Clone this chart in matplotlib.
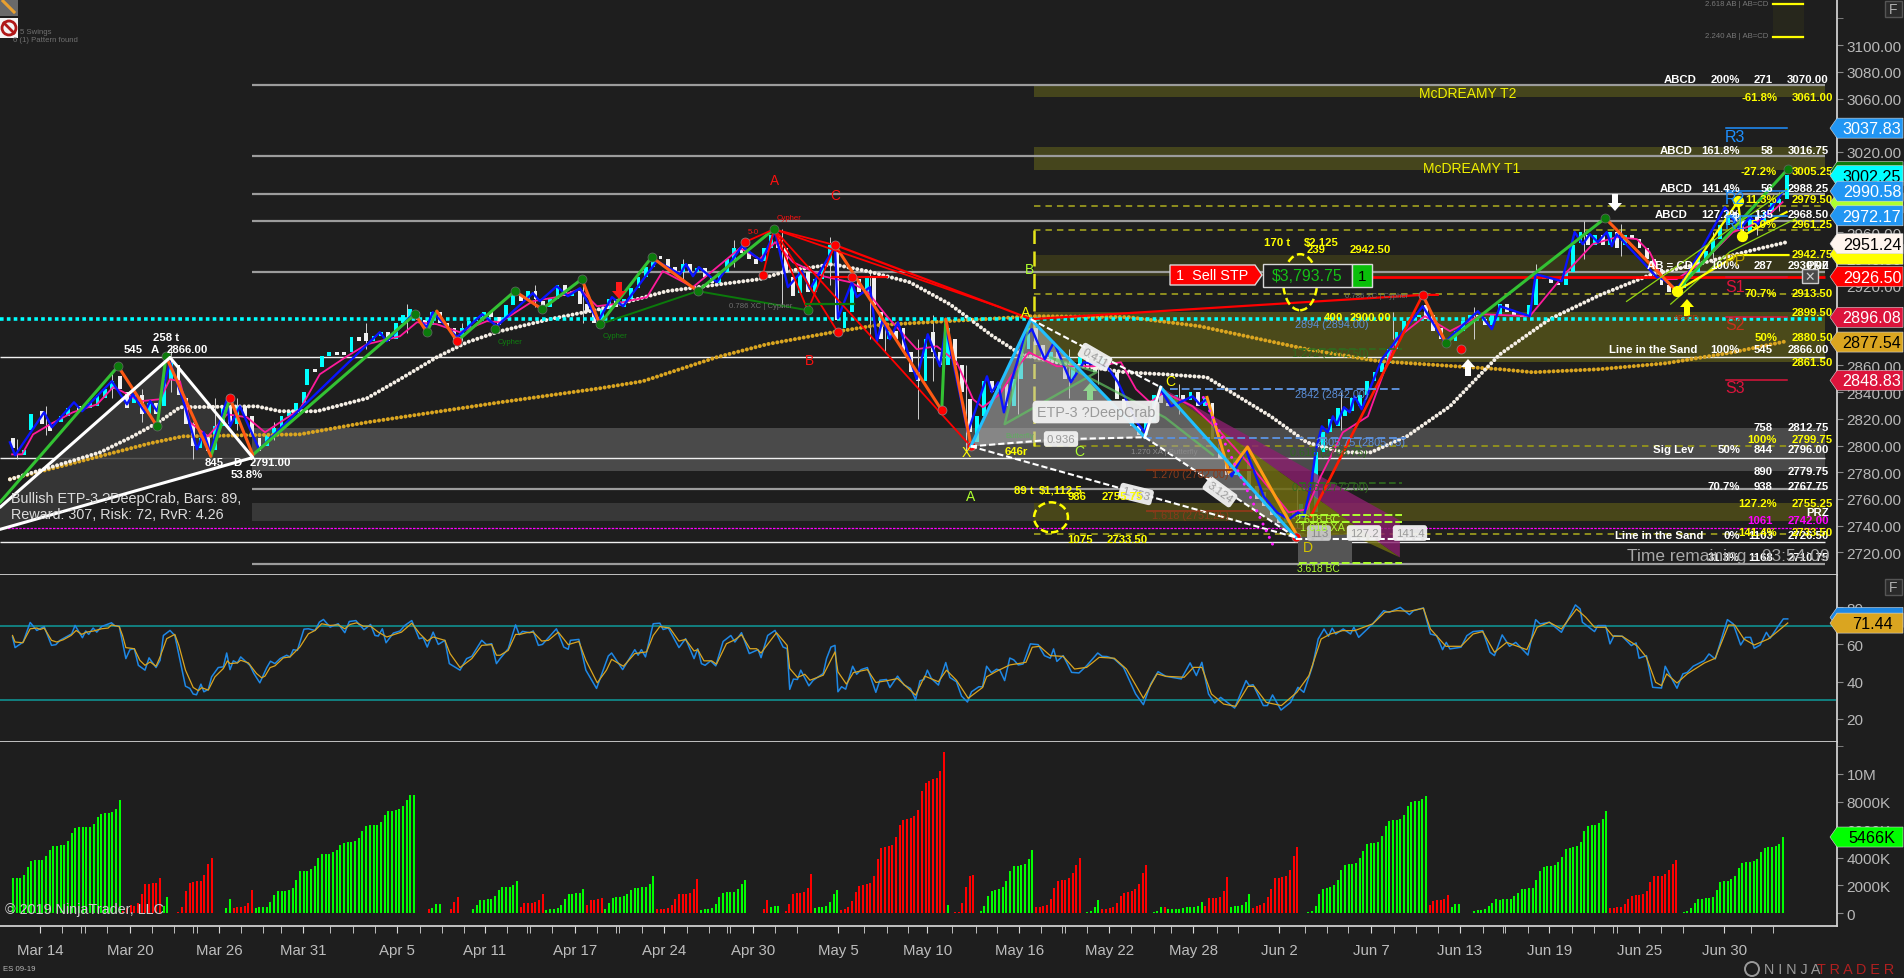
import numpy as np
import matplotlib
matplotlib.use("Agg")
import matplotlib.pyplot as plt
from matplotlib.lines import Line2D
from matplotlib.patches import Polygon, Rectangle, Ellipse, Circle
from matplotlib.transforms import IdentityTransform

W, H = 1904, 979
BG = "#1e1e1e"
plt.rcParams["font.family"] = ["Liberation Sans", "DejaVu Sans"]

# ---------- data ----------
date_labels = ["Mar 14","Mar 20","Mar 26","Mar 31","Apr 5","Apr 11","Apr 17","Apr 24","Apr 30","May 5","May 10",
               "May 16","May 22","May 28","Jun 2","Jun 7","Jun 13","Jun 19","Jun 25","Jun 30"]
date_bars = [11,35.3,59.5,82.3,107.9,131.8,156.3,180.4,204.6,227.7,252,277,301.4,324.2,347.6,372.6,396.7,421,445.4,468.5]
minor_bars = [16.8,22,23.2,29.2,41.2,47.4,52.4,53.4,65.4,71.6,76.4,89.8,95.9,101.8,114,120,126,137.9,143.3,144.1,150,
              162.1,167.3,168.3,174.4,186.6,192.7,197.5,198.5,210.6,216.7,234.7,240.9,246.7,258.6,265.1,271,283,288.6,
              289.4,295.3,307.3,313.5,318.3,330.6,336.5,354.7,360.7,366.4,378.8,384.8,390.7,403.1,408.3,409.1,415.2,
              427.3,433.2,438.2,439.4,451.4,457.4,475.7,481.7]

candle_bars = [3,6,8,11,13,16,18,21,24,26, 28,30,32,34,36,38,40,42,44,46, 48,50,52,54,56,58,60,62,64,66,
               68,70,72,74,76,78,80,82,83,85, 87,89,91,93,95,97,99,101,103,105,
               107,109,111,113,115,117,119,121,123,125, 127,129,131,133,135,137,139,141,143,145,
               147,149,151,153,155,157,159,161,163,165, 167,169,171,173,175,177,179,181,183,185,
               187,189,191,193,195,197,199,201,203,205, 207,209,211,213,215,217,219,221,223,225,
               227,229,231,233,235,237,239,241,243,245, 247,249,251,253,255,257,259,261,263,265,
               267,269,271,273,275,277,279,281,283,285, 287,289,291,293,295,297,299,301,303,305,
               307,309,311,313,315,317,319,321,323,325, 327,329,331,333,335,337,339,341,343,345,
               347,349,351,353,355,357,359,361,363,365, 367,369,371,373,375,377,379,381,383,385,
               387,389,391,393,395,397,399,401,403,405, 407,409,411,413,415,417,419,421,423,425,
               427,429,431,433,435,437,439,441,443,445, 447,449,451,453,455,457,459,461,463,465,
               467,469,471,473,475,477,479,481,483,485]
candle_open = [2806,2793,2812,2826,2816,2818,2822,2830,2828,2830, 2836,2842,2852,2840,2832,2838,2824,2832,2830,2850,
               2860,2836,2816,2798,2808,2797,2815,2830,2816,2830, 2822,2806,2800,2808,2813,2822,2826,2832,2845,2857,
               2859,2867,2870,2870,2870,2881,2884,2878,2882,2885, 2880,2892,2896,2900,2894,2890,2900,2892,2888,2882,
               2888,2893,2896,2900,2896,2895,2905,2912,2910,2916, 2908,2904,2910,2920,2912,2916,2906,2900,2892,2902,
               2910,2904,2910,2918,2926,2934,2942,2940,2934,2930, 2936,2930,2933,2926,2922,2930,2940,2948,2944,2940,
               2938,2948,2958,2948,2926,2914,2930,2915,2925,2935, 2950,2888,2900,2925,2915,2926,2900,2880,2886,2888,
               2870,2855,2848,2885,2870,2860,2880,2860,2835,2803, 2822,2848,2840,2846,2830,2850,2872,2888,2875,2864,
               2870,2862,2850,2860,2866,2860,2858,2866,2855,2835, 2825,2815,2808,2818,2838,2832,2830,2838,2834,2840,
               2830,2832,2805,2790,2778,2790,2790,2770,2765,2755, 2750,2742,2750,2745,2756,2750,2795,2810,2815,2822,
               2826,2830,2838,2848,2855,2862,2872,2885,2893,2896, 2905,2898,2888,2880,2878,2886,2893,2898,2895,2890,
               2898,2906,2900,2898,2896,2905,2927,2925,2922,2920, 2930,2952,2958,2950,2958,2950,2960,2950,2958,2955,
               2948,2940,2932,2920,2915,2918,2925,2930,2940,2946, 2955,2965,2975,2968,2960,2972,2968,2975,2982,2985]
candle_close = [2798,2797,2824,2816,2811,2822,2828,2826,2832,2838, 2842,2848,2842,2828,2838,2824,2832,2824,2850,2862,
                2838,2816,2800,2806,2796,2815,2830,2816,2830,2822, 2808,2796,2808,2813,2822,2826,2832,2840,2857,2855,
                2867,2870,2868,2868,2881,2878,2878,2882,2885,2878, 2892,2898,2902,2894,2888,2900,2892,2888,2880,2888,
                2893,2896,2900,2896,2890,2905,2913,2908,2916,2910, 2904,2910,2920,2912,2916,2906,2900,2892,2902,2910,
                2904,2910,2918,2926,2934,2942,2940,2934,2930,2936, 2930,2933,2926,2922,2930,2940,2948,2944,2940,2936,
                2948,2958,2948,2930,2912,2930,2915,2925,2935,2950, 2894,2900,2920,2915,2926,2905,2880,2886,2880,2870,
                2855,2848,2880,2870,2860,2888,2860,2840,2810,2822, 2848,2840,2846,2830,2850,2872,2888,2875,2864,2870,
                2862,2850,2860,2866,2860,2855,2866,2860,2835,2825, 2815,2808,2818,2838,2832,2830,2838,2834,2840,2830,
                2836,2805,2790,2778,2790,2796,2770,2760,2755,2748, 2742,2752,2745,2756,2748,2795,2810,2820,2828,2828,
                2836,2838,2848,2855,2862,2872,2885,2893,2896,2898, 2895,2886,2880,2878,2886,2893,2898,2895,2890,2898,
                2906,2900,2898,2896,2905,2927,2925,2922,2920,2930, 2950,2960,2950,2958,2950,2960,2948,2958,2955,2948,
                2940,2932,2920,2915,2918,2925,2930,2940,2946,2955, 2965,2975,2968,2960,2972,2968,2975,2982,2985,3003]
wick_bars = [4,12,30,38,46,52,58,64,74,99,110,125,145,158,185,199,212,225,236,240,249,253,262,276,290,298,320,352,364,378,400,417,430,440,465,477,483]
wick_high = [2805,2830,2856,2842,2872,2818,2836,2836,2818,2892,2906,2892,2920,2922,2940,2954,2962,2956,2932,2892,2880,2898,2860,2860,2872,2870,2846,2768,2840,2900,2904,2936,2968,2966,2960,2976,2990]
wick_low = [2790,2808,2836,2818,2840,2790,2800,2812,2804,2872,2884,2878,2904,2892,2924,2934,2904,2920,2880,2870,2820,2848,2795,2824,2836,2846,2824,2738,2812,2880,2880,2916,2940,2942,2940,2958,2976]

gold_bars = [2.7,40.8,49.7,81.5,99.7,135.9,163,174.7,194.8,208.4,226.3,238.3,257.3,271.7,280.4,306.7,326,355.1,374.7,407.6,416.5,434.7,452.9,470.9,485.5]
gold_ma = [2774.7,2801.7,2806.9,2808.4,2817.4,2832.4,2842.9,2848.2,2866.2,2875.9,2884.9,2890.2,2893.2,2895.4,2896.9,2896.2,2889.4,2872.2,2863.2,2857.2,2854.9,2857.2,2861.7,2869.9,2878.2]
white_bars = [2.7,18.2,27.2,36.1,43.5,48.9,69.8,76.1,86.1,99.7,108.7,118.7,126.9,135.9,149.4,163,181.2,206.5,213.8,226.3,235.6,247.2,258.1,269.8,277.4,287.2,305.7,316.3,327.9,337.7,345.3,355.1,364.9,372.5,382.3,394,401.8,407.6,421.1,434.7,448.3,461.9,475.5,485.5]
white_ma = [2774.7,2787.4,2794.9,2806.9,2818.2,2828.7,2829.4,2825.7,2825.7,2835.4,2849.7,2866.2,2877.4,2885.7,2894.7,2902.2,2915.7,2924.7,2930.7,2935.9,2930.7,2922.4,2905.9,2881.9,2868.4,2862.4,2854.9,2853.4,2851.2,2834.7,2821.9,2802.4,2794.9,2794.9,2806.9,2829.4,2851.9,2868.4,2894.7,2912.7,2927.7,2936.3,2945.9,2952.4]

blue_bars = [2.7,4.1,12,14.1,20.1,22.3,30.4,34.5,36.1,39.4,40.8,42.7,46.2,49.7,53.5,55.4,57.1,61.7,62.5,65.2,70.4,81.5,103.2,105.1,112.2,116,117.6,124.2,131,135,144.8,146.7,151.3,154.3,157.6,162.5,166.3,169.3,178.5,184.8,186.4,188.3,189.9,194.8,201.6,207,210.6,214.1,217.9,220.1,226.9,227.7,231.5,232.8,236.4,238.3,239.9,241.8,244,249.1,252.1,255.4,257,263,268.2,269.5,271.2,272.8,275,278.5,280.4,283.9,286.4,291,294.5,300.8,303.8,308.9,311.1,315.4,318.2,324.1,326,327.9,331.7,334.7,338.5,343.4,347,350.2,352.7,354.3,356.2,357.6,359.2,360.8,362.2,363.3,365.2,366.8,368.1,370,375.5,386.6,392.6,401.6,405.4,407.6,415.7,417.3,424.4,427.9,430.1,432,434.2,436.6,438,439.3,450.2,451.8,455.6,458.6,468.7,472.8,475.5,477.7,483.1,484.4]
blue_price = [2802.4,2792.7,2824.9,2813.7,2832.4,2825.7,2848.2,2830.9,2838.4,2824.9,2833.2,2825.7,2862.4,2834.7,2797.2,2809.9,2794.9,2834.7,2814.4,2829.4,2797.2,2827.2,2884.9,2878.2,2898.4,2888.7,2899.9,2881.2,2898.4,2889.4,2914.2,2908.2,2919.4,2911.9,2917.9,2893.2,2911.2,2904.4,2938.2,2928.4,2935.9,2926.9,2933.7,2922.4,2949.4,2938.2,2960.7,2918.7,2930.7,2917.2,2949.4,2895.4,2922.4,2911.2,2918.7,2878.2,2894.7,2879.7,2892.4,2849.7,2883.4,2859.4,2888.7,2809.9,2851.9,2839.9,2847.4,2824.9,2849.7,2881.9,2887.2,2864.7,2877.4,2847.4,2862.4,2859.4,2847.4,2817.4,2809.9,2842.2,2829.4,2836.9,2830.9,2834.7,2799.4,2776.9,2797.2,2761.9,2749.9,2744.7,2749.9,2746.9,2769.4,2797.2,2814.4,2809.9,2821.9,2815.9,2828.7,2824.9,2836.9,2827.2,2864.7,2904.4,2877.4,2900.7,2887.2,2904.4,2896.9,2928.4,2923.2,2959.9,2950.9,2958.4,2952.4,2959.9,2949.4,2958.4,2926.2,2924.7,2917.2,2928.4,2978.6,2962.1,2971.1,2965.9,2984.6,2989.9]
pink_bars = [3.3,6,9,13.6,19.8,26.4,30.7,33.1,38,43.5,46.2,48.9,51.6,56.5,61.7,67.1,72,76.1,81.5,86.9,94.3,99.7,108.7,113.3,118.7,125,132.3,135.9,144.8,151.3,157.6,162.2,166.6,175.8,180.1,188.3,201.1,206.5,210.6,215.5,223.6,231,235.6,241,249.1,254.6,260,264.4,267.1,271.7,274.7,279.6,287.2,297,304.6,308.7,312.5,316.3,324.1,331.7,340.7,350.2,355.1,358.9,364.9,371.7,379.3,387.2,394,402.9,415.7,424.7,432.8,439.3,444.8,448.3,451.8,455.6,462.7,470.9,475.5,480.9,484.4]
pink_price = [2793.4,2793.4,2808.4,2815.9,2824.9,2830.9,2843.7,2840.7,2833.2,2834.7,2849.7,2848.2,2817.4,2806.9,2823.4,2821.2,2809.9,2817.4,2827.2,2853.4,2866.9,2875.9,2881.9,2892.4,2890.9,2884.9,2893.2,2892.4,2908.2,2911.2,2917.2,2904.4,2905.9,2911.2,2930.7,2918.7,2947.9,2939.7,2952.4,2937.4,2926.9,2922.4,2915.7,2896.9,2872.2,2874.4,2862.4,2834.7,2828.7,2838.4,2851.9,2869.9,2859.4,2859.4,2862.4,2842.2,2832.4,2839.9,2829.4,2809.9,2782.2,2749.9,2752.2,2776.9,2809.9,2821.9,2879.7,2896.9,2885.7,2898.4,2896.9,2926.9,2950.9,2956.2,2954.7,2944.9,2924.7,2924.7,2937.4,2959.9,2964.4,2973.4,2982.4]

# swing legs
green_bars = [0,32.1, 42.7,45.1, 57.3,62.5, 68.7,112.8, 116,118.7, 124.2,139.9, 147.3,158.1, 163,177.1, 189.6,210.3, 255.9,257, 392.9,436.2, 455.6,485.8]
green_price = [2757.5,2859.4, 2814.4,2866.9, 2792,2835.4, 2793,2898.4, 2884.9,2900.7, 2878.2,2915.7, 2902.2,2924.7, 2890.9,2941.2, 2915.7,2962.1, 2826.4,2894.7, 2876.9,2970.4, 2915.7,3007.1]
orange_bars = [32.1,42.7, 45.1,57.3, 62.5,68.7, 112.8,116, 118.7,124.2, 139.9,147.3, 158.1,163, 177.1,189.6, 226.9,255.9, 257,263.8, 386.6,392.9, 436.2,455.6]
orange_price = [2859.4,2814.4, 2866.9,2792, 2835.4,2793, 2898.4,2884.9, 2900.7,2878.2, 2915.7,2902.2, 2924.7,2890.9, 2941.2,2915.7, 2950.2,2826.4, 2894.7,2800.9, 2912.9,2876.9, 2970.4,2915.7]
dot_green_bars = [32.1,42.7,45.1,112.8,116,134.5,139.9,147.3,158.1,163,177.1,189.6,210.3,219.5,392.9,436.2,485.8]
dot_green_price = [2859.4,2814.4,2866.9,2898.4,2884.9,2887.2,2915.7,2902.2,2924.7,2890.9,2941.2,2915.7,2962.1,2901.4,2876.9,2970.4,3007.1]
dot_red_bars = [62.5,124.2,202.4,207.3,226.9,231.5,227.7,255.9,263.8,352.1,386.6,397]
dot_red_price = [2835.4,2878.2,2952.4,2927.7,2950.2,2926.2,2884.9,2826.4,2799.4,2731.2,2912.9,2872.2]
red_fan_bars = [210.3,226.9, 210.3,271.7, 210.3,219.5, 210.3,227.7, 210.3,263.8, 202.4,210.3, 207.3,210.3, 219.5,226.9]
red_fan_price = [2962.1,2950.2, 2962.1,2903.7, 2962.1,2901.4, 2962.1,2884.9, 2962.1,2799.4, 2952.4,2962.1, 2927.7,2962.1, 2901.4,2950.2]
red_trend_bars = [226.3,271.7,280.1,386.6,390.7]
red_trend_price = [2950.9,2903.7,2894.7,2912.9,2912.9]
red_up_bars = [356.2,386.6]
red_up_price = [2746.9,2912.9]

# harmonic pattern points
left_bars = [0,46.2,68.7,0]
left_price = [2753.7,2866,2791,2737.2]
crab_bars = [263.8,280.1,311.1,315.4,352.1]
crab_price = [2799.4,2894.7,2806.2,2843.7,2731.2]

# RSI
rsi_bars = [3.4,4.1,6.3,8.2,10,12,14,15.2,16.3,19.5,20.4,22.4,23.3,24.1,25.3,26.3,27.6,30.3,31.2,32.4,34.2,35.3,36.5,37.6,39.4,40.5,42.4,43.5,44.4,46.2,47.5,50.4,51.6,52.5,53.4,54.6,55.4,56.6,57.5,59.3,60.7,61.6,62.5,63.4,64.5,65.4,67.9,69,70.6,72.5,73.5,74.7,76.1,77.9,78.8,79.7,80.8,82.6,83.8,85.6,86.8,87.9,89.7,91.9,93.7,94.9,96.7,98.9,100.7,101.9,102.8,103.9,104.9,106.9,108.7,110,111.9,113.9,115,116.1,117.7,119.1,120.9,122.1,125,126.8,128.2,130.9,132.2,133.6,134.9,135.9,
            138.1,140.1,141.1,142,144,144.9,146.3,147.4,151.2,153.2,154.4,155,157.3,159.2,162.1,165.3,166.2,169.2,172.5,173.4,174.3,175.4,177.5,179.3,180.2,181.6,184.5,186.3,188.6,189.6,190.6,191.6,193.1,194.5,196.5,198.6,199.7,201.5,203.6,206,206.8,208.6,210.6,212.8,213.9,214.6,215.6,216.7,217.6,219.8,221,223.7,224.6,225.8,226.9,227.7,228.7,229.8,231.7,232.8,234,235.7,238,239.1,240.9,241.8,243.9,245.7,247.4,248.8,250,251.1,252,253.1,255,257,258.1,259.9,261.3,262.9,264,266,267,268.1,269.4,270.8,271.7,
            273,274.4,275.5,276.7,278,280,282.1,283.8,285.4,286.3,287.2,288.9,291.2,293.2,295.3,298.3,299.5,300.8,302.8,305.3,308.6,310.7,312.7,314.7,316.8,321,323.4,325.1,326.6,328.4,330.1,331.7,335.5,338.6,339.5,340.5,343.3,344.4,345.8,348.1,350.7,352.7,354.3,356.7,358.2,359.8,361,362,363,365,367,367.9,369.2,373,376,377.5,380.5,383,384.1,386.8,388.7,390.4,392,393,394,397,398.6,400.3,402.9,404.9,406.1,408.2,410.2,411.9,415.2,417.3,418.5,421,424.3,428.1,429.4,430,433.3,434.2,436.3,437.5,438.6,440.8,443.3,444.6,445.4,447.4,449.1,451.5,452.5,454.8,455.7,457.3,458.5,460.1,463.1,464.4,466.1,469.4,471,473,474.3,475.7,476.7,478.3,480,481,483,484.6,485.8]
rsi_values = [64,58.3,61.3,71.8,67.5,69.6,59.5,59.9,62.2,65.7,70.2,63.6,67.2,65.4,68.8,66.6,69.6,71.6,70,69.8,52.4,57.2,57.7,48.8,46.2,52.8,47.6,51.5,64.8,67.5,64.8,37.6,36.4,33.4,33,38.7,34.6,35.9,42.6,47.6,48,55.4,46.5,51.2,50.1,53.3,48.8,44.4,39.4,47.6,51,49.7,52.4,54.2,53.3,57.2,56.8,68.2,68.4,67.5,72,73.4,69.3,71.1,66.3,72.3,72.8,67.9,70.7,64.8,64.5,68.4,60.9,66.1,67.2,70.2,72.8,63.1,63.6,58.6,66.6,60,62.2,49.7,46.2,52.4,53.6,62.2,59.9,60.4,49.7,52.4,
              57.7,70.5,65.2,67,66.3,67.2,59.5,60,68.4,58.6,57.4,62.2,62.7,46.2,36.4,53.8,55.4,46.5,57.2,54.2,57.2,53.3,71.1,71.4,68,68.9,58.3,63.1,52.4,57.7,49.7,48.8,51.2,48.5,61.6,64.8,61.3,66.3,55.1,57.2,52.9,64.8,67.5,58.6,57.7,35.9,41.4,41.2,46.2,37.8,40.8,44.4,52.4,58.6,59.5,34.6,37.3,36,48.3,44,46.5,47.6,34.3,40.8,41.2,36.9,43,38.2,36.4,30.2,40.5,41.2,46.2,41.7,38.2,50.3,42.3,40,32.3,29.1,34.6,37.3,37.3,48.3,44.8,46.7,46.2,
              40.6,52.7,51.7,49,49.5,60.3,59.9,54,52.6,57.6,50.9,54,45,44.7,48.6,55.4,53.6,53.5,52.2,47.7,33.4,27.7,38.8,45.4,42.9,41.5,50.1,43.3,50.4,33.4,28.6,31.6,25.9,40.6,37.9,38.4,27.2,27.2,32.9,24.8,28.9,37,34.3,48.6,62.9,68.3,64.4,68.7,65.6,68.3,65.6,69.2,63.8,71,78.1,77.2,79.9,76,78.1,79.6,65.6,64.7,57.2,61.1,57.6,58.5,64.7,66.9,67.4,55.8,54,65.1,59,61.1,54.3,73.3,71,71.9,66.5,81.2,79,71.9,66.9,70.1,70.1,60.3,64.7,64.4,59.4,60.8,52.6,54,37,36.6,48.3,39.7,36.5,44.2,45,48.3,51.3,54.9,52.2,73.3,71,59.7,63.8,63.8,57.9,59.7,66.5,63.3,69.2,73.7,73.7]
sig_bars = [3.4,4.1,6.2,8.2,10,10.9,12,14,15.4,17.2,19.3,20.7,22.2,23.5,25.4,27.6,29.4,30.3,32.4,33.3,34.2,36.5,38,39.4,40.8,42.4,43.5,45.3,47.5,48.6,50.4,52.5,53.9,54.8,56.6,58.4,60.7,61.8,62.5,64.5,65.4,67.5,69.7,71.1,72,73.4,74.7,77,78.8,81.5,83.8,85.6,87.4,89.7,91.9,93.7,95.1,96.9,98.7,100.7,102.8,105.1,109.1,111.9,114.1,116.1,117.7,120.9,122.3,125,128.2,130.9,133.6,134.9,135.9,
            138.1,140.1,141.3,143.1,144.9,147.2,149,151.7,154.4,157.3,159.2,162.3,164.8,166.2,169.4,172.5,175.7,177.5,179.3,182,184.5,186.3,188.6,189.6,191.3,193.4,194.7,197.4,199.7,201.5,203.8,205.6,206.8,211,213.9,214.6,216.7,218.7,220.1,223.7,226.9,227.7,230,231.9,235.7,238,240.9,243.9,248.8,251.3,255,257.2,259.9,263.1,267,268.1,270.8,
            274.4,278.8,280.5,282.5,285.4,288.9,292,295.3,298.7,302.8,306.1,310.7,314.4,316.8,321.8,324.3,326.6,329.2,332.5,335.8,339.1,340.8,344.1,348.2,352.4,355.7,359,361.5,364.8,368.1,373,376.3,379.6,383,386.8,388.7,392.9,397,400.3,402.9,406.1,409.4,414.9,417.7,421,424.3,428.4,430.9,433.3,436.3,438.3,440.8,445,447.4,449.9,451.5,452.9,455.7,458.5,463.1,466.1,469.7,471.4,473.9,476.7,480.5,483,485.8]
sig_values = [64.8,61.3,60.9,68.4,68.8,68,68.8,62.2,61.3,62.5,64.8,67.5,65.4,66.6,67.2,68.4,68.8,70.5,69.6,64.8,58.3,57.7,51.5,48.8,50.6,48.3,53.3,63.1,65.4,59.5,46.2,36.9,35.2,36.8,35.5,42.6,47.1,51.2,49.7,50.1,51.5,50.1,44.4,42.1,43,47.6,48.5,52.8,53.3,58.6,65.7,67.5,71.1,70.2,70.5,68.4,70.7,71.6,69.8,69.8,66.6,64,66.6,71.4,65.7,61.8,64,62.2,55.1,47.6,52.4,59.5,59.9,54.2,54.2,
              56.8,65.4,65.4,66.3,66.6,61.8,62.2,66.6,59.9,61.6,51.5,39.4,46.2,52,48.3,55.1,56,64.8,69.6,68.8,61.8,62.7,56.5,57.2,51.2,51.2,49.4,60.4,62.5,65.2,57.7,57.7,55.4,66.3,59.5,47.1,42.3,44,40.8,43.5,56,45.3,38.7,44.9,46.5,39.6,40.5,41.7,32.8,43,40,46.2,40.8,31.1,36.9,42.6,45.6,
              49,50.4,58.5,59,54,53.6,46.8,47.7,53.1,52.6,46.8,31.1,44.2,42.9,42.4,47.7,47.7,33.4,28,26.8,37.5,37.5,28.9,27.2,34.3,43.3,62.9,65.6,67.4,67.4,71,77.2,78.1,77.8,79.4,68.3,59,59,65.6,66.9,55.8,61.1,57.2,69.2,71.9,68.3,79,74.6,69.2,69.2,64.4,64.4,59,53.1,39.7,37.9,44.2,39.3,44.2,50,52.6,70.4,70.4,62.9,59.7,62.9,66.9,71.5]

# volume in thousands: positive = up bar, negative = down bar, 0 = no bar, one entry per bar from the left
vol_signed = [0,0,0,
 2500,2520,2540,2780,3310,3740,3820,3820,3790,4100,4540,4820,4820,4900,4900,5180,5760,6120,6190,6190,6190,6190,6410,6910,7100,7200,7200,7270,7490,8140,
 -170,-410,-580,-530,-770,-1370,-2090,-2140,-2160,-2210,-2500,530,1150,0,0,-100,-480,-1580,-2160,-2280,-2300,-2350,-2740,-3530,-3960,
 0,50,50,360,1010,-360,-430,-430,-530,-770,-1660,
 360,430,480,480,790,1300,1580,1580,1580,1680,1850,2380,3020,3020,3070,3170,3410,3940,4250,4250,4250,4370,4560,4900,5060,5090,5090,5210,5400,5930,6260,6340,6340,6340,6530,7060,7340,7340,7420,7490,7660,8110,8500,8500,
 0,0,-50,-290,360,650,650,0,0,-290,-790,-1150,0,0,
 50,290,580,940,940,1010,1010,1250,1660,1870,1920,1920,2020,2300,
 -430,-720,-720,-770,-790,-940,-1370,220,290,310,360,600,1010,1370,1390,1440,1440,1730,
 -580,-940,-940,-1010,-1080,290,770,1080,1150,1180,1220,1370,1660,1800,1800,1870,1870,2110,2660,
 -290,-290,-290,-360,-580,-1010,-1370,-1370,-1370,-1440,-1730,-2450,
 220,290,290,360,650,1150,1440,1510,1510,1510,1730,2090,2380,0,0,0,
 -50,-290,-940,430,500,500,0,-140,-650,-1370,-1440,-1490,-1510,-1800,-2810,
 360,430,430,500,790,1370,1660,
 -220,-290,-460,-860,-1510,-1940,-2040,-2090,-2160,-2660,-3890,-4680,-4750,-4820,-4900,-5470,-6340,-6720,-6770,-6840,-6980,-7420,-8780,-9360,-9500,-9650,-9720,-10220,-11520,
 580,0,-100,-100,-720,-1870,-2690,-2740,0,
 140,530,1250,1630,1700,1780,1870,2330,3020,3360,3360,3460,3550,3890,4510,
 -430,-460,-500,-580,-1010,-1800,-2330,-2380,-2380,-2520,-2880,-3500,-3960,0,
 100,140,430,940,-290,-290,-380,-430,-720,-1220,-1490,-1540,-1580,-1730,-2090,-2880,-3460,0,
 100,170,430,-430,290,290,290,310,360,430,430,430,530,790,
 -530,-1080,-1080,-1080,-1150,-1580,-2590,430,500,500,580,840,1370,
 -360,-500,-580,-720,-1150,-1780,-2520,-2570,-2620,-2690,-3100,-4100,-4750,0,0,
 70,140,500,1370,1730,1820,1900,2040,2380,3100,3460,3530,3530,3600,3960,4460,4970,5020,5020,5140,5570,6240,6620,6700,6720,6770,7060,7680,7970,8020,8060,8160,8420,
 -580,-860,-940,-940,-1010,-1300,430,650,650,0,0,0,
 140,220,220,290,500,770,1010,940,1010,1010,1010,1220,1490,1730,1730,1800,1850,2380,3020,3340,3380,3380,3460,3670,4060,4610,4700,4780,4850,5140,5900,6290,6340,6340,6480,6770,7340,
 -360,-360,-430,-430,-650,-1010,-1220,-1300,-1300,-1370,-1580,-2230,-2660,-2660,-2660,-2810,-3100,-3530,-3820,0,
 70,140,360,720,1010,1010,1080,1080,1150,1660,2230,2300,2300,2450,2660,3240,3600,3670,3670,3740,3890,4370,4680,4750,4750,4820,4970,5470]

gray_levels = [3070,3016.75,2988.25,2968.5,2930,2767.75,2711]
white_levels = [2866,2791,2728]
olive_dash_levels = [2979.5,2961.25,2913.5,2799.75,2733.5]

# ---------- figure & axes ----------
fig = plt.figure(figsize=(W/100, H/100), dpi=100, facecolor=BG)
def mkax(top, bot):
    a = fig.add_axes([0, 1-bot/H, 1837/W, (bot-top)/H], facecolor=BG)
    a.set_xlim(0, 1837/3.68)
    for s in ("top", "left"):
        a.spines[s].set_visible(False)
    for s in ("bottom", "right"):
        a.spines[s].set_color("#cfcfcf"); a.spines[s].set_linewidth(1.3)
    a.yaxis.tick_right()
    a.tick_params(axis="y", colors="#8a8a8a", labelcolor="#b8b8b8", labelsize=11, length=4, pad=3)
    a.set_xticks([])
    return a
ax = mkax(0, 576); ax.set_ylim(2703, 3134.6)
rx = mkax(576, 743); rx.set_ylim(7.66, 97.25)
vx = mkax(743, 927); vx.set_ylim(-900, 12266)

ax.set_yticks(np.arange(2720, 3101, 20)); ax.set_yticklabels([f"{v:.2f}" for v in np.arange(2720, 3101, 20)])
ax.set_yticks([3120], minor=True); ax.tick_params(axis="y", which="minor", colors="#8a8a8a", length=4)
rx.set_yticks([20,40,60,80])
vx.set_yticks([0,2000,4000,6000,8000,10000]); vx.set_yticklabels(["0","2000K","4000K","6000K","8000K","10M"])
vx.set_yticks([12000], minor=True); vx.tick_params(axis="y", which="minor", colors="#8a8a8a", length=4)
vx.set_xticks(date_bars); vx.set_xticklabels(date_labels, fontsize=10.8, color="#bdbdbd")
vx.set_xticks(minor_bars, minor=True)
vx.tick_params(axis="x", which="both", colors="#d8d8d8", labelcolor="#bdbdbd", length=5, direction="out", pad=7)

# ---------- helpers for annotation ----------
I = IdentityTransform()
def T(x, y, s, color="white", size=8.2, weight="normal", ha="center", va="center", z=8, **kw):
    return fig.text(x/W, 1-y/H, s, color=color, fontsize=size, fontweight=weight, ha=ha, va=va, zorder=z, **kw)
def B(x, y, s, size=8.2, fc="#f2f2f2", tc="#9a9a9a", pad=0.25, rot=0):
    T(x, y, s, color=tc, size=size, z=7, rotation=rot, rotation_mode="anchor",
      bbox=dict(boxstyle=f"round,pad={pad}", fc=fc, ec="none", alpha=.95))
def P(pts, fc, ec="none", z=6, lw=1, alpha=1):
    fig.add_artist(Polygon([(x, H-y) for x, y in pts], closed=True, fc=fc, ec=ec, lw=lw, alpha=alpha, transform=I, zorder=z))
def flag(a, v, txt, fc, tc, z=9):
    y = H - a.transData.transform((0, v))[1]
    P([(1830,y),(1837,y-10),(1903,y-10),(1903,y+10),(1837,y+10)], fc, ec="#d8d8d8", z=z, lw=.4)
    T(1872, y+.5, txt, color=tc, size=11.6, z=z+.5)
def arrow(x, y, c, up=True):
    s = -1 if up else 1
    P([(x-3,y-9*s),(x+3,y-9*s),(x+3,y),(x+7,y),(x,y+8*s),(x-7,y),(x-3,y)], c, z=5)

# ---------- price panel ----------
X0, XE, XB = 68.5, 496, 281
for lo, hi, x0, c in [(2780.7,2813.5,X0,"#4a4a4a"), (2743.4,2756.7,X0,"#383838"), (2743.4,2756.7,XB,"#484619"),
                      (2862.6,2900,XB,"#4b4a1a"), (2927,2943,XB,"#37361a"), (3006.2,3023.6,XB,"#45451c"), (3061,3071,XB,"#45451c")]:
    ax.add_patch(Rectangle((x0, lo), XE-x0, hi-lo, fc=c, ec="none", zorder=1))
ax.add_patch(Rectangle((481.9, 3104), 8.2, 31, fc="#27271c", ec="none", zorder=1))

ax.hlines(gray_levels, X0, XE, color="#9c9c9c", lw=1.6, zorder=2)
ax.hlines(white_levels, 0, XE, color="#f0f0f0", lw=1.0, zorder=2)
ax.hlines(olive_dash_levels, XB, XE, color="#8f8f1e", lw=1.4, linestyles=(0,(3.3,2.6)), zorder=2)
ax.hlines(2738.5, 0, XE, color="#ff00ff", lw=.9, linestyles=(0,(2,1)), zorder=2)
ax.plot([281,281], [2800,2961.25], color="#e6e61a", lw=1.8, ls=(0,(6,3)), zorder=3)

# left pattern fill
ax.add_patch(Polygon(list(zip(left_bars, left_price)), fc="#3a3a3a", ec="none", alpha=.85, zorder=2))

# candles
cb, co, cc = np.array(candle_bars)+.5, np.array(candle_open, float), np.array(candle_close, float)
ax.vlines(np.array(wick_bars)+.5, wick_low, wick_high, color="#d0d0d0", lw=.7, zorder=3)
ax.bar(cb, cc-co, bottom=co, width=1.05, color=np.where(cc >= co, "#00ffff", "#f0f0f0"), zorder=3)

# moving averages
ax.plot(gold_bars, gold_ma, color="#daa520", lw=2.9, ls=(0,(.01,1.1)), dash_capstyle="round", zorder=4)
ax.plot(white_bars, white_ma, color="#f5efe6", lw=2.9, ls=(0,(.01,1.1)), dash_capstyle="round", zorder=4)
ax.hlines(2895, 0, XE, color="#00ffff", lw=2.6, linestyles=(0,(1,.9)), zorder=4)

# bands of the crab's D zone
cbars, cpr = crab_bars, crab_price
ax.add_patch(Polygon([(315.4,2843.7),(380.4,2743.9),(380.4,2716.2)], fc="#8a1f6e", ec="none", alpha=.8, zorder=4))
ax.add_patch(Polygon([(315.4,2843.7),(380.4,2716.2),(366.8,2733.4),(352.1,2731.2)], fc="#6e6a10", ec="none", alpha=.85, zorder=4))
ax.add_patch(Polygon([(cbars[0],cpr[0]),(cbars[1],cpr[1]),(cbars[2],cpr[2])], fc="#b8b8b8", ec="none", alpha=.55, zorder=5))
ax.add_patch(Polygon([(cbars[2],cpr[2]),(cbars[3],cpr[3]),(cbars[4],cpr[4])], fc="#a0a0a0", ec="none", alpha=.5, zorder=5))
ax.add_patch(Rectangle((352.6, 2712), 14.7, 22, fc="#555555", ec="none", zorder=3))

# pink, blue
ax.plot(pink_bars, pink_price, color="#ff1a9c", lw=1.3, zorder=5)
ax.plot(blue_bars, blue_price, color="#0a14ff", lw=1.7, zorder=6)

# swing legs
for i in range(0, len(green_bars), 2):
    ax.plot(green_bars[i:i+2], green_price[i:i+2], color="#33c233", lw=2.2, zorder=6, solid_capstyle="round")
for i in range(0, len(orange_bars), 2):
    ax.plot(orange_bars[i:i+2], orange_price[i:i+2], color="#ff5a14", lw=2.2, zorder=6, solid_capstyle="round")
for i in range(0, len(red_fan_bars), 2):
    ax.plot(red_fan_bars[i:i+2], red_fan_price[i:i+2], color="#ff0000", lw=1.3, zorder=6)
ax.plot(red_trend_bars, red_trend_price, color="#ff0000", lw=1.6, zorder=5)
ax.plot(red_up_bars, red_up_price, color="#ff1a00", lw=1.9, zorder=6)
ax.plot([163,189.6,219.5], [2890.9,2915.7,2901.4], color="#0b7a0b", lw=1.4, zorder=6)
ax.plot([219,232], [2906,2906], color="#0b7a0b", lw=1.6, zorder=6)
ax.plot([226,241], [2926,2926], color="#ff0000", lw=1.6, zorder=6)
ax.plot([280.1,273,298,285.5,316.6,329.6], [2894.7,2816,2855,2866,2821,2793], color="#62c462", lw=1.7, alpha=.7, zorder=6)
ax.plot([328,334,339,352], [2836,2780,2799,2735], color="#ff9c14", lw=2.2, zorder=6)
ax.scatter(dot_green_bars, dot_green_price, s=42, color="#0b7a0b", edgecolor="#666666", lw=.5, zorder=7)
ax.scatter(dot_red_bars, dot_red_price, s=42, color="#ff0000", edgecolor="#888888", lw=.5, zorder=7)

# right side yellow swing
ax.plot([455.6,472.3,473.4,485.5], [2915.7,2983.1,2956.9,2975], color="#ffff00", lw=1.6, zorder=7)
ax.plot([442,485.5], [2908,2992], color="#8fd413", lw=.9, zorder=7)
ax.plot([454,470,488], [2906,2945,2970], color="#8fd413", lw=.9, zorder=7)
ax.plot([455.6,472,486], [2915.7,2942.75,2942.75], color="#ffff00", lw=1.6, zorder=7)
ax.scatter([455.6,472.3,473.4], [2915.7,2983.1,2956.9], s=50, color="#ffff00", zorder=8)

# pattern outlines
ax.plot(left_bars, left_price, color="white", lw=2.2, zorder=7, solid_capstyle="round")
ax.plot([cbars[0],cbars[1],cbars[2]], [cpr[0],cpr[1],cpr[2]], color="#20bfff", lw=2.2, zorder=7)
ax.plot([cbars[3],cbars[4]], [cpr[3],cpr[4]], color="#20bfff", lw=2.2, zorder=7)
ax.plot([cbars[2],cbars[3]], [cpr[2],cpr[3]], color="white", lw=2.0, zorder=7)
dash = dict(color="white", lw=1.5, ls=(0,(3,1.4)), zorder=7)
ax.plot([cbars[1],cbars[3]], [cpr[1],cpr[3]], **dash)
ax.plot([cbars[0],287.2,cbars[2]], [cpr[0],2804.7,cpr[2]], **dash)
ax.plot([cbars[0],cbars[4]], [cpr[0],cpr[4]], **dash)
ax.plot([cbars[2],cbars[4]], [cpr[2],cpr[4]], **dash)
ax.plot([cbars[4],388.5], [2730,2730], **dash)
ax.plot([327,346.5], [2836,2722], color="#ff1aff", lw=2.2, ls=(0,(.01,2.4)), dash_capstyle="round", zorder=7)

# projection levels
ax.hlines(2842, 318, 381, color="#5b8fd9", lw=1.4, linestyles=(0,(4,2)), zorder=6)
ax.hlines(2805.75, 311, 382, color="#5b8fd9", lw=1.4, linestyles=(0,(4,2)), zorder=6)
ax.hlines([2872.5,2772], 353, 381, color="#2f6b1f", lw=1.2, linestyles=(0,(4,2)), zorder=6)
ax.hlines([2782,2751.25], 311.5, 340.5, color="#8a3a1a", lw=1.4, zorder=6)
ax.hlines([2747.6,2742.4,2711.7], 353, 381, color="#adff2f", lw=1.4, linestyles=(0,(4,1.5)), zorder=6)
ax.hlines(2926.5, 372.5, XE, color="#ff0000", lw=2.0, zorder=5)
for lv, c in [(3038,"#1e90ff"),(2991,"#1e90ff"),(2972,"#1e90ff"),(2926,"#dc143c"),(2896,"#dc143c"),(2849,"#dc143c")]:
    ax.plot([469,485.5], [lv,lv], color=c, lw=1.1, zorder=7)
ax.plot([481.9,490], [3130.6,3130.6], color="#ffff00", lw=1.6, zorder=7)
ax.plot([481.9,490], [3106.4,3106.4], color="#ffff00", lw=1.6, zorder=7)

# circles
ax.add_patch(Ellipse((353.3,2922.4), 9.2, 42, fc="none", ec="#ffff00", lw=1.8, ls=(0,(3,1.5)), zorder=8))
ax.add_patch(Ellipse((285.6,2746.2), 9.2, 22.5, fc="none", ec="#ffff00", lw=1.8, ls=(0,(3,1.5)), zorder=8))

# ---------- RSI ----------
rx.hlines([70,30], 0, 499, color="#0f9a9a", lw=1.1, zorder=1)
rx.plot(rsi_bars, rsi_values, color="#1e88e5", lw=1.1, zorder=2)
rx.plot(sig_bars, sig_values, color="#daa520", lw=.9, zorder=3)

# ---------- volume ----------
vs = np.array(vol_signed, float)
xs = np.arange(len(vs)) + .5
vx.bar(xs, np.abs(vs), width=.55, color=np.where(vs >= 0, "#00ff00", "#ff0000"), zorder=2)

# ---------- flags ----------
flag(ax, 3005.2, "", "#0b7a0b", "white", z=9)
flag(ax, 2981.8, "", "#adff2f", "black", z=9)
flag(ax, 2943.33, "", "#ffff00", "black", z=9)
flag(ax, 3037.83, "3037.83", "#2196f3", "white", z=10)
flag(ax, 3002.25, "3002.25", "#00ffff", "black", z=11)
flag(ax, 2990.58, "2990.58", "#2196f3", "white", z=12)
flag(ax, 2972.17, "2972.17", "#2196f3", "white", z=13)
flag(ax, 2951.24, "2951.24", "#fff5ee", "black", z=13)
flag(ax, 2926.50, "2926.50", "#ff0000", "white", z=13)
flag(ax, 2896.08, "2896.08", "#dc143c", "white", z=13)
flag(ax, 2877.54, "2877.54", "#daa520", "black", z=13)
flag(ax, 2848.83, "2848.83", "#dc143c", "white", z=13)
flag(rx, 74.5, "", "#1e88e5", "white", z=9)
flag(rx, 71.44, "71.44", "#daa520", "black", z=10)
flag(vx, 5466, "5466K", "#00ff00", "black", z=10)

# ---------- texts: right table ----------
for y, name, nx, pct, num, val in [(80,"ABCD",1697,"200%","271","3070.00"),(151,"ABCD",1693,"161.8%","58","3016.75"),
                                   (189,"ABCD",1693,"141.4%","56","2988.25"),(215,"ABCD",1688,"127.2%","135","2968.50"),
                                   (266,"AB = CD",1693,"100%","287","2930.00"),(350,"Line in the Sand",1697,"100%","545","2866.00"),
                                   (428,"",0,"","758","2812.75"),(450,"Sig Lev",1694,"50%","844","2796.00"),(472,"",0,"","890","2779.75"),
                                   (487,"",0,"70.7%","938","2767.75"),(536,"Line in the Sand",1703,"0%","1103","2726.50"),(558,"",0,"31.3%","1168","2710.75")]:
    if name: T(nx, y, name, size=8.2, weight="bold", ha="right")
    if pct: T(1740, y, pct, size=8.2, weight="bold", ha="right")
    T(1773, y, num, size=8.2, weight="bold", ha="right")
    T(1829, y, val, size=8.2, weight="bold", ha="right")
for y, pct, val in [(98,"-61.8%","3061.00"),(172,"-27.2%","3005.25"),(200,"11.3%","2979.50"),(225,"5.0%","2961.25"),(255,"","2942.75"),
                    (294,"70.7%","2913.50"),(313,"","2899.50"),(338,"50%","2880.50"),(363,"","2861.50"),(440,"100%","2799.75"),
                    (504,"127.2%","2755.25"),(533,"141.4%","2733.50")]:
    if pct: T(1777, y, pct, color="#ffff00", size=8.2, weight="bold", ha="right")
    T(1833, y, val, color="#ffff00", size=8.2, weight="bold", ha="right")
T(1773, 521, "1061", color="#ff00ff", size=8.2, weight="bold", ha="right")
T(1829, 521, "2742.00", color="#ff00ff", size=8.2, weight="bold", ha="right")
T(1818, 513, "PRZ", size=8.2, weight="bold")
T(1818, 266, "PRZ", size=8.2, weight="bold")
T(1728, 557, "Time remaining - 03:54:09", color="#a8a8a8", size=12.5)
T(1768, 4, "2.618 AB | AB=CD", color="#777777", size=5.6, ha="right")
T(1768, 37, "2.240 AB | AB=CD", color="#777777", size=5.6, ha="right")
for x, y, s, c in [(1735,138,"R3","#1e90ff"),(1735,200,"R2","#1e90ff"),(1735,225,"R1","#1e90ff"),(1735,262,"PP","#b8a000"),
                   (1735,288,"S1","#dc143c"),(1735,326,"S2","#c8301c"),(1735,389,"S3","#dc143c")]:
    T(x, y, s, color=c, size=11.5)
T(1687, 319, "AB=CD", color="#c83010", size=5.4)
T(1468, 94, "McDREAMY T2", color="#f0f000", size=10)
T(1472, 169, "McDREAMY T1", color="#f0f000", size=10)

# pattern texts
T(11, 499, "Bullish ETP-3 ?DeepCrab, Bars: 89,", color="#dcdcdc", size=10.4, ha="left")
T(11, 515, "Reward: 307, Risk: 72, RvR: 4.26", color="#dcdcdc", size=10.4, ha="left")
for x, y, s in [(166,338,"258 t"),(133,350,"545"),(155,350,"A"),(187,350,"2866.00"),(214,463,"845"),(237,463,"D"),(270,463,"2791.00"),(247,475,"53.8%")]:
    T(x, y, s, size=8.2, weight="bold")
for x, y, s in [(775,181,"A"),(835,196,"C"),(809,361,"B")]:
    T(x, y, s, color="#ff1010", size=9.8)
T(753, 232, "5-0", color="#ff1010", size=5.6)
T(789, 218, "Cypher", color="#ff1010", size=5.6)
T(510, 343, "Cypher", color="#0f7f0f", size=5.6)
T(615, 337, "Cypher", color="#0f7f0f", size=5.6)
T(761, 306, "0.786 XC | Cypher", color="#6e6e6e", size=5.6)
T(1377, 297, "0.786 XC | Cypher", color="#6e6e6e", size=5.6)
T(1164, 453, "1.270 XA | Butterfly", color="#8a8a8a", size=5.6)
T(1020, 437, "Butterfly", color="#5fae5f", size=5.6)
for x, y, s, c, z in [(966,453,"X","#ffff00",10),(1026,313,"A","#ffff00",10),(1030,270,"B","#adff2f",10),(1079,452,"C","#adff2f",10),
                      (1170,382,"C","#ffff00",10),(971,497,"A","#adff2f",10),(1308,548,"D","#d4c400",10)]:
    T(x, y, s, color=c, size=z)
T(1318, 569, "3.618 BC", color="#adff2f", size=7.4)
for x, y, s in [(1277,243,"170 t"),(1321,243,"$2,125"),(1316,250,"239"),(1370,250,"2942.50"),(1024,491,"89 t"),(1061,491,"$1,112.5"),
                (1077,497,"986"),(1122,497,"2755.75"),(1016,452,"646r"),(1080,540,"1075"),(1127,540,"2733.50"),(1334,318,"400"),(1370,318,"2900.00")]:
    T(x, y, s, color="#ffff00", size=8.2, weight="bold")
for x, y, s, c in [(1332,325,"2894 (2894.00)","#5b8fd9"),(1332,395,"2842 (2842.00)","#5b8fd9"),(1360,443,"2805.75 (2805.75)","#5b8fd9"),
                   (1330,354,"1.272 (2872.50)","#2f6b1f"),(1328,453,"0.618 (2798.75)","#2f6b1f"),(1330,488,"0.886 (2772.00)","#2f6b1f"),
                   (1190,475,"1.270 (2782.00)","#8a3a1a"),(1190,516,"1.618 (2751.25)","#8a3a1a"),
                   (1318,520,"2.618 BC","#adff2f"),(1322,528,"1.618 XA","#adff2f")]:
    T(x, y, s, color=c, size=7.8)
B(1095, 358, "0.411", rot=-30); B(1061, 440, "0.936"); B(1136, 495, "1.753", rot=-14); B(1220, 493, "3.124", rot=-36)
B(1319, 534, "113", fc="#c8c8c8", tc="#888888"); B(1364, 534, "127.2"); B(1410, 534, "141.4")
B(1096, 413, "ETP-3 ?DeepCrab", size=10.4, pad=.3)

# order widget
P([(1170,266),(1255,266),(1262,276),(1255,286),(1170,286)], "#ff0000", ec="#d8d8d8", z=7)
T(1212, 276, "1  Sell STP", size=10.4, z=8)
P([(1263,265),(1352,265),(1352,288),(1263,288)], "#1e1e1e", ec="#d8d8d8", z=7)
T(1307, 277, "$3,793.75", color="#16c016", size=11.4, z=8)
P([(1352,265),(1372,265),(1372,288),(1352,288)], "#0abf0a", ec="#d8d8d8", z=7)
T(1362, 277, "1", color="black", size=11, z=8)
P([(1802,270),(1818,270),(1818,284),(1802,284)], "#4a4a4a", ec="#cccccc", z=7)
T(1810, 277, "\u2715", color="#d0d0d0", size=9, weight="bold", family="DejaVu Sans", z=8)

# arrows
arrow(1615, 204, "white", up=False)
arrow(1687, 308, "#ffff00", up=True)
arrow(1468, 368, "white", up=True)
arrow(1090, 392, "#8fd48f", up=True)
arrow(619, 292, "#ff1a1a", up=False)

# F boxes
for y in (10, 588):
    P([(1885,y-8),(1902,y-8),(1902,y+8),(1885,y+8)], "#2a2a2a", ec="#555555", z=7)
    T(1893, y, "F", color="#b0b0b0", size=10, z=8)

# top-left icons
P([(0,0),(18,0),(18,17),(0,17)], "#6a6a6a", z=7)
fig.add_artist(Line2D([3,14], [H-2,H-13], color="#e8a030", lw=2.2, transform=I, zorder=8))
P([(0,19),(18,19),(18,39),(0,39)], "#f4f4f4", z=7)
fig.add_artist(Circle((9, H-29), 7, fc="#f4f4f4", ec="#b01818", lw=2, transform=I, zorder=8))
fig.add_artist(Line2D([4,14], [H-24,H-34], color="#b01818", lw=2, transform=I, zorder=8))
T(20, 33, "5 Swings", color="#707070", size=5.6, ha="left")
T(13, 41, "6 (1) Pattern found", color="#707070", size=5.6, ha="left")

# footer
T(5, 910, "\u00a9 2019 NinjaTrader, LLC", color="#cdcdcd", size=10.4, ha="left")
T(3, 970, "ES 09-19", color="#b8b8b8", size=5.6, ha="left")
T(1764, 970, "N I N J A", color="#9a9a9a", size=10.4, ha="left")
T(1817, 970, "T R A D E R", color="#b02020", size=10.4, ha="left")
fig.add_artist(Circle((1752, H-970), 7, fc="none", ec="#9a9a9a", lw=1.4, transform=I, zorder=8))

fig.savefig("out.png", dpi=100, facecolor=BG)
